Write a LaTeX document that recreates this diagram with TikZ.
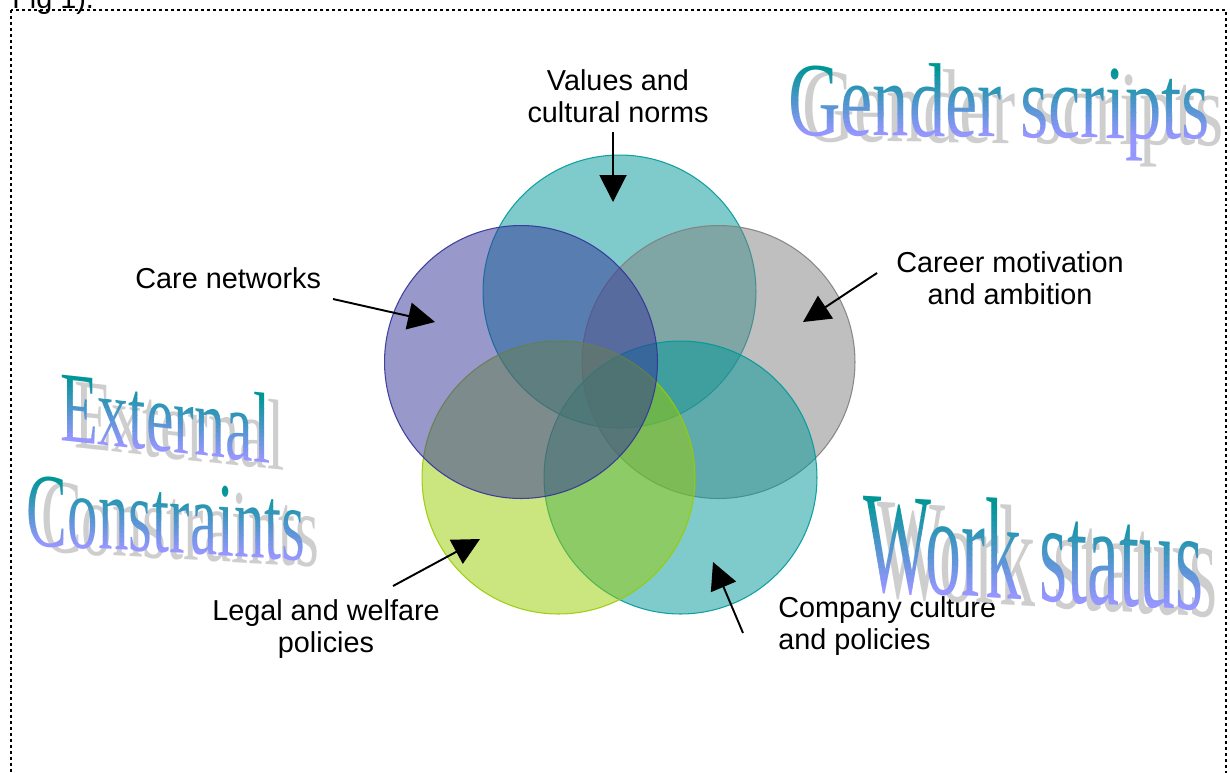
\documentclass[tikz,border=0pt]{standalone}
\usepackage{fontspec}
\setmainfont{Liberation Sans}
\newfontfamily\artfont{Liberation Serif}
\usetikzlibrary{arrows.meta}
\definecolor{cteal}{RGB}{0,153,153}
\definecolor{cnavy}{RGB}{51,51,153}
\definecolor{cgray}{RGB}{128,128,128}
\definecolor{cgreen}{RGB}{153,204,0}
\definecolor{wtop}{RGB}{0,150,150}
\definecolor{wbot}{RGB}{150,150,255}
\definecolor{wshadow}{RGB}{206,206,206}
\newcommand\gradword[7]{%
  \begin{scope}[shift={(#1,#2)}, yslant=#3, xscale=#4, transform shape]
    \node[wordart, text=wshadow, font=\artfont\fontsize{#5}{#5}\selectfont] at ({14/#4},6) {#7};
    \foreach \i in {0,...,15}{
      \pgfmathsetmacro\pct{100-\i*100/15}
      \begin{scope}
        \clip (-100,{-#6+\i*#6/16-(\i==0)*50}) rectangle (3000,{-#6+(\i+1)*#6/16+(\i==15)*80});
        \node[wordart, text=wtop!\pct!wbot, font=\artfont\fontsize{#5}{#5}\selectfont] at (0,0) {#7};
      \end{scope}
    }
  \end{scope}}
\begin{document}
\begin{tikzpicture}[x=0.02cm, y=-0.02cm, line join=round,
    venn/.style={circle, minimum size=5.46cm, inner sep=0pt, draw=#1, fill=#1, fill opacity=0.5, draw opacity=0.9, line width=0.6pt},
    lbl/.style={font=\fontsize{16.4}{18.4}\selectfont, inner sep=0pt, align=center},
    pointer/.style={-{Triangle[length=0.54cm,width=0.54cm]}, line width=1.1pt},
    wordart/.style={anchor=base west, inner sep=0pt, outer sep=0pt},
    frame/.style={line width=0.6pt, dash pattern=on 1.7pt off 1.7pt}]
  \useasboundingbox (0,0) rectangle (1230,772);
  \clip (0,0) rectangle (1230,772);
  \fill[white] (0,0) rectangle (1230,772);
  \node[lbl, anchor=base west] (figlabel) at (12,8) {Fig 1).};
  \draw[frame] (11,10) rectangle (1226,800);

  \node[venn=cteal] (values) at (619.5,291.5) {};
  \node[venn=cgray] (career) at (718.5,362) {};
  \node[venn=cteal] (company) at (680.5,477.5) {};
  \node[venn=cgreen] (legal) at (558.5,477.5) {};
  \node[venn=cnavy] (care) at (521,362) {};

  \node[lbl, anchor=north] (lblvalues) at (618,69.3) {Values and\\cultural norms};
  \node[lbl, anchor=north west] (lblcare) at (135,267.3) {Care networks};
  \node[lbl, anchor=north] (lblcareer) at (1010,251.3) {Career motivation\\and ambition};
  \node[lbl, anchor=north] (lbllegal) at (326,599.3) {Legal and welfare\\policies};
  \node[lbl, anchor=north west, align=left] (lblcompany) at (778,596.3) {Company culture\\and policies};

  \coordinate (values from) at (613,132);
  \coordinate (values to) at (613,202);
  \coordinate (care from) at (333,299);
  \coordinate (care to) at (435,322);
  \coordinate (career from) at (877,273);
  \coordinate (career to) at (803,322);
  \coordinate (legal from) at (393,586);
  \coordinate (legal to) at (480,539);
  \coordinate (company from) at (743,633);
  \coordinate (company to) at (713,562);
  \draw[pointer] (values from) -- (values to);
  \draw[pointer] (care from) -- (care to);
  \draw[pointer] (career from) -- (career to);
  \draw[pointer] (legal from) -- (legal to);
  \draw[pointer] (company from) -- (company to);

  \gradword{788}{135}{-0.01}{0.69}{60}{70}{Gender scripts}
  \gradword{60}{440}{-0.11}{0.62}{57}{67}{External}
  \gradword{27}{545}{-0.055}{0.58}{60}{70}{Constraints}
  \gradword{863}{590}{-0.06}{0.5}{82}{95}{Work status}
\end{tikzpicture}
\end{document}
